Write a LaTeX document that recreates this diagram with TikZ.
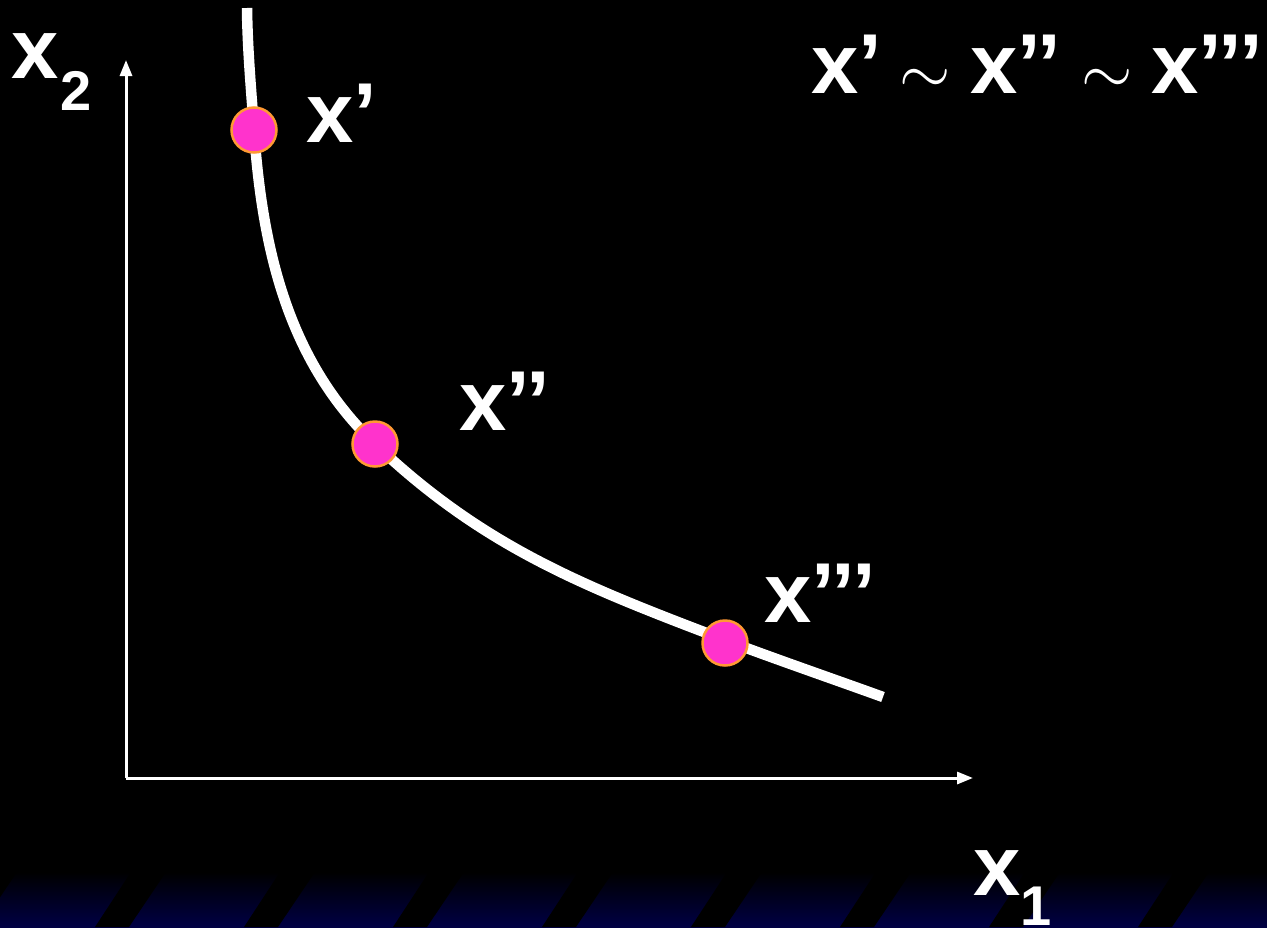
\RequirePackage{fix-cm}
\documentclass[tikz,border=0pt]{standalone}
\usepackage{fontspec}
\setmainfont{Liberation Sans}
\usetikzlibrary{arrows.meta}
\definecolor{navy}{RGB}{0,0,68}
\definecolor{dotpink}{RGB}{255,51,204}
\definecolor{dotorange}{RGB}{255,153,51}
\tikzset{
  lbl/.style={text=white, font=\bfseries\fontsize{85}{100}\selectfont, inner sep=0pt, anchor=base west},
  sub/.style={text=white, font=\bfseries\fontsize{56}{66}\selectfont, inner sep=0pt, anchor=base west},
  tld/.style={text=white, font=\fontsize{66}{72}\selectfont, inner sep=0pt, anchor=base},
  axis/.style={white, line width=3pt, -{Triangle[length=16pt,width=12pt]}},
  pt/.style={circle, fill=dotpink, draw=dotorange, line width=2.5pt, minimum size=45pt, inner sep=0pt},
  curve/.style={white, line width=10.5pt}
}
\begin{document}
\begin{tikzpicture}[x=1pt,y=-1pt]
\fill[black] (0,0) rectangle (1267,927);
\useasboundingbox (0,0) rectangle (1267,927);
% bottom stripe
\shade[top color=black, bottom color=navy] (0,872) rectangle (1267,927);
\foreach \k in {-1,...,8}{
  \fill[black] ({131+149*\k},872) -- ({166+149*\k},872) -- ({129+149*\k},927) -- ({95+149*\k},927) -- cycle;
}
% axes
\coordinate (O) at (126,778);
\coordinate (Y) at (126,60);
\coordinate (X) at (973,778);
\draw[axis] (O) -- (Y);
\draw[axis] (O) -- (X);
% curve
\coordinate (c0) at (247,8);
\coordinate (c4) at (883,697);
\draw[curve] (c0) .. controls (247.5,50) and (251.2,90) .. (254,130)
  .. controls (262.4,249.7) and (288,361.3) .. (375,444)
  .. controls (483.8,547.4) and (584.8,586.8) .. (725,640)
  .. controls (771.8,657.8) and (836,680) .. (c4);
% points
\node[pt] (p1) at (254,130) {};
\node[pt] (p2) at (375,444) {};
\node[pt] (p3) at (725,643) {};
% point labels
\node[lbl] (l1) at (306,142) {x’};
\node[lbl] (l2) at (459,430) {x’’};
\node[lbl] (l3) at (764,622) {x’’’};
% axis labels
\node[lbl] (x2) at (11,78) {x};
\node[sub] (x2s) at (60,110) {2};
\node[lbl] (x1) at (973,895) {x};
\node[sub] (x1s) at (1020,925) {1};
% top relation
\node[lbl] (t1) at (811,93) {x’};
\node[tld] (s1) at (925,93) {$\sim$};
\node[lbl] (t2) at (970,93) {x’’};
\node[tld] (s2) at (1107,93) {$\sim$};
\node[lbl] (t3) at (1151,93) {x’’’};
\end{tikzpicture}
\end{document}
